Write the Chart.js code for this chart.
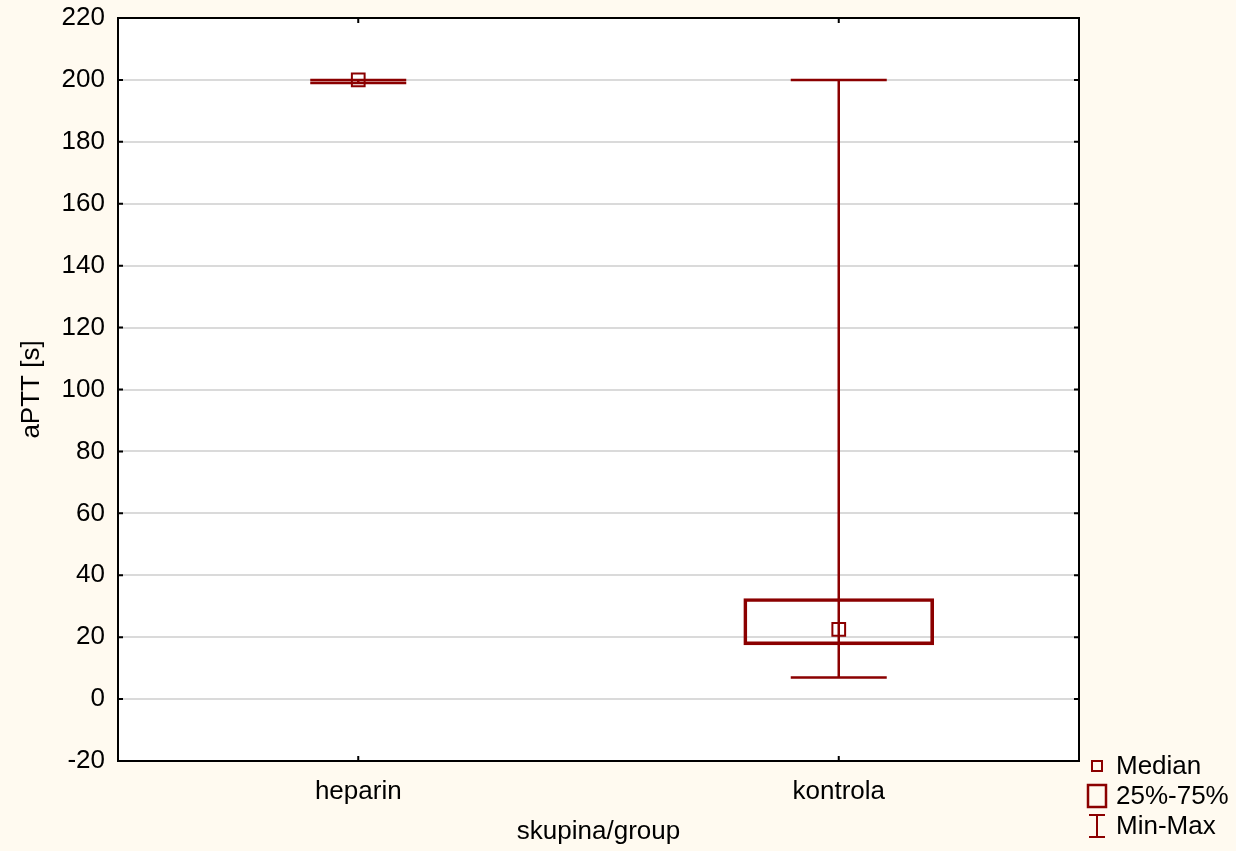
<!DOCTYPE html>
<html>
<head>
<meta charset="utf-8">
<script src="https://cdn.jsdelivr.net/npm/chart.js@4/dist/chart.umd.min.js"></script>
<style>
  html, body { margin: 0; padding: 0; background: #fffaf0; }
  #wrap { width: 1236px; height: 851px; position: relative; }
</style>
</head>
<body>
<div id="wrap"><canvas id="myChart"></canvas></div>
<script>
// aPTT by group, box = 25%-75%, whiskers = min-max
const groups = ['heparin', 'kontrola']
const minVals = [199, 7]
const q1Vals = [null, 17.5]
const medianVals = [200, 22.5]
const q3Vals = [null, 32.5]
const maxVals = [200, 200]
const yTicks = [-20, 0, 20, 40, 60, 80, 100, 120, 140, 160, 180, 200, 220]

const red = '#8b0000'
const font = { family: 'Arial, "Liberation Sans", sans-serif', size: 26 }

const boxes = groups.map((g, i) => q1Vals[i] === null ? null : [q1Vals[i], q3Vals[i]])

const frame = {
  id: 'frame',
  beforeDraw(chart) {
    const { ctx, chartArea: a } = chart
    ctx.save()
    ctx.fillStyle = '#fffaf0'
    ctx.fillRect(0, 0, chart.width, chart.height)
    ctx.fillStyle = '#ffffff'
    ctx.fillRect(a.left, a.top, a.right - a.left, a.bottom - a.top)
    ctx.restore()
  },
  beforeDatasetsDraw(chart) {
    // whiskers
    const { ctx } = chart
    const x = chart.scales.x, y = chart.scales.y
    ctx.save()
    ctx.strokeStyle = red
    ctx.lineWidth = 2.5
    groups.forEach((g, i) => {
      const cx = x.getPixelForValue(i)
      const ymin = y.getPixelForValue(minVals[i])
      const ymax = y.getPixelForValue(maxVals[i])
      ctx.beginPath()
      ctx.moveTo(cx, ymin); ctx.lineTo(cx, ymax)
      ctx.moveTo(cx - 48, ymin); ctx.lineTo(cx + 48, ymin)
      ctx.moveTo(cx - 48, ymax); ctx.lineTo(cx + 48, ymax)
      ctx.stroke()
    })
    ctx.restore()
  },
  afterDraw(chart) {
    const { ctx, chartArea: a } = chart
    const x = chart.scales.x, y = chart.scales.y
    ctx.save()
    ctx.strokeStyle = '#000'
    ctx.lineWidth = 2
    ctx.strokeRect(a.left, a.top, a.right - a.left, a.bottom - a.top)
    ctx.beginPath()
    yTicks.forEach(v => {
      const py = y.getPixelForValue(v)
      ctx.moveTo(a.left, py); ctx.lineTo(a.left + 5, py)
      ctx.moveTo(a.right, py); ctx.lineTo(a.right - 5, py)
    })
    groups.forEach((g, i) => {
      const px = x.getPixelForValue(i)
      ctx.moveTo(px, a.top); ctx.lineTo(px, a.top + 5)
      ctx.moveTo(px, a.bottom); ctx.lineTo(px, a.bottom - 5)
    })
    ctx.stroke()

    // legend
    const lx = 1097
    ctx.strokeStyle = red
    ctx.lineWidth = 2
    ctx.strokeRect(lx - 5, 761, 10, 10)
    ctx.lineWidth = 2.5
    ctx.strokeRect(lx - 9, 785, 18, 22)
    ctx.lineWidth = 2
    ctx.beginPath()
    ctx.moveTo(lx - 8, 815); ctx.lineTo(lx + 8, 815)
    ctx.moveTo(lx, 815); ctx.lineTo(lx, 837)
    ctx.moveTo(lx - 8, 837); ctx.lineTo(lx + 8, 837)
    ctx.stroke()
    ctx.fillStyle = '#000'
    ctx.font = '26px ' + font.family
    ctx.textBaseline = 'middle'
    ctx.textAlign = 'left'
    ctx.fillText('Median', 1116, 767)
    ctx.fillText('25%-75%', 1116, 797)
    ctx.fillText('Min-Max', 1116, 827)
    ctx.restore()
  }
}

new Chart(document.getElementById('myChart'), {
  data: {
    labels: groups,
    datasets: [
      {
        type: 'line',
        label: 'Median',
        data: medianVals,
        showLine: false,
        pointStyle: 'rect',
        pointRadius: 9,
        pointBorderWidth: 2,
        pointBorderColor: red,
        pointBackgroundColor: 'rgba(255,255,255,0)',
        order: 0
      },
      {
        type: 'bar',
        label: '25%-75%',
        data: boxes,
        backgroundColor: 'rgba(255,255,255,0)',
        borderColor: red,
        borderWidth: 3,
        borderSkipped: false,
        barThickness: 190,
        order: 1
      }
    ]
  },
  options: {
    responsive: true,
    maintainAspectRatio: false,
    animation: false,
    devicePixelRatio: 1,
    layout: { padding: { left: 0, top: 18, right: 157, bottom: 0 } },
    plugins: { legend: { display: false }, tooltip: { enabled: false } },
    scales: {
      x: {
        type: 'category',
        offset: true,
        grid: { display: false, drawTicks: false },
        border: { display: false },
        ticks: { color: '#000', font: font, padding: 15 },
        title: { display: true, text: 'skupina/group', color: '#000', font: font, padding: { top: 8 } },
        afterFit(s) { s.height = 90; s.paddingLeft = 0; s.paddingRight = 0 }
      },
      y: {
        min: -20,
        max: 220,
        grid: { color: '#dadada', lineWidth: 2, drawTicks: false },
        border: { display: false },
        afterBuildTicks(s) { s.ticks = yTicks.map(v => ({ value: v })) },
        ticks: { color: '#000', font: font, padding: 13 },
        title: { display: true, text: 'aPTT [s]', color: '#000', font: font, padding: { top: 16 } },
        afterFit(s) { s.width = 118; s.paddingTop = 0; s.paddingBottom = 0 }
      }
    }
  },
  plugins: [frame]
})
</script>
</body>
</html>
